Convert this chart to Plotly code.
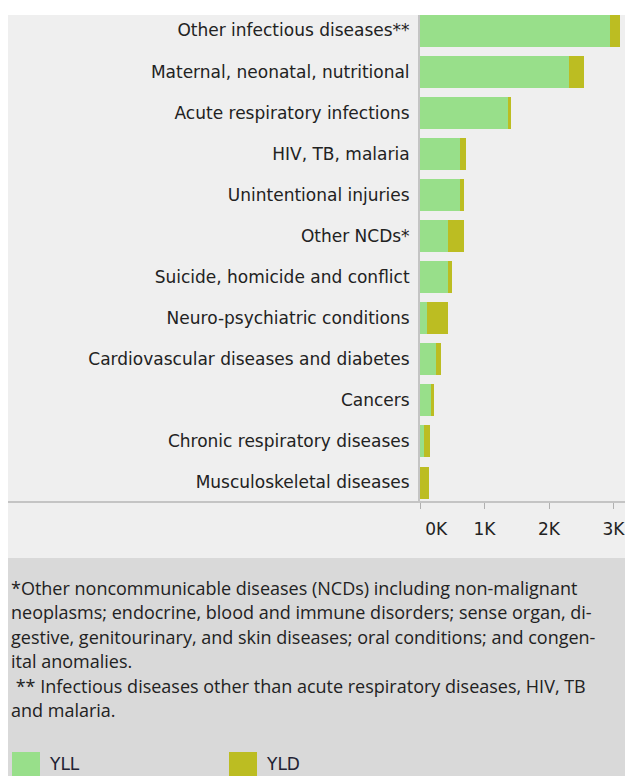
import plotly.graph_objects as go

CATEGORIES = [
    "Other infectious diseases**",
    "Maternal, neonatal, nutritional",
    "Acute respiratory infections",
    "HIV, TB, malaria",
    "Unintentional injuries",
    "Other NCDs*",
    "Suicide, homicide and conflict",
    "Neuro-psychiatric conditions",
    "Cardiovascular diseases and diabetes",
    "Cancers",
    "Chronic respiratory diseases",
    "Musculoskeletal diseases",
]
YLL = [2946, 2310, 1360, 625, 625, 440, 440, 105, 253, 166, 67, 5]
YLD = [155, 237, 55, 88, 52, 238, 62, 335, 68, 56, 93, 135]
SERIES_NAMES = ["YLL", "YLD"]
SERIES_COLORS = ["#98df8a", "#bcbd22"]
TICK_VALUES = [0, 1000, 2000, 3000]
TICK_LABELS = ["\u00a0\u00a0\u00a0\u00a0\u00a0\u00a00K", "1K", "2K", "3K"]

FOOTNOTE_LINES = [
    "*Other noncommunicable diseases (NCDs) including non-malignant",
    "neoplasms; endocrine, blood and immune disorders; sense organ, di-",
    "gestive, genitourinary, and skin diseases; oral conditions; and congen-",
    "ital anomalies.",
    "\u00a0** Infectious diseases other than acute respiratory diseases, HIV, TB",
    "and malaria.",
]

OFF = 0  # page body margin (removed below)
W, H = 625 - OFF, 776 - OFF
L, R, T, B = 420, 0, 15, 274
PW = W - L - R
PH = H - T - B
PX_PER_UNIT = 64.5 / 1000.0
X_MAX = PW / PX_PER_UNIT


def px(x):
    return (x - OFF - L) / PW


def py(y):
    return (H - B - (y - OFF)) / PH


fig = go.Figure()
for name, vals, col in zip(SERIES_NAMES, [YLL, YLD], SERIES_COLORS):
    fig.add_trace(go.Bar(
        y=CATEGORIES, x=vals, orientation="h", name=name,
        marker=dict(color=col, line=dict(width=0)),
        showlegend=False,
    ))

shapes = [
    dict(type="rect", xref="paper", yref="paper", x0=px(8), x1=px(630), y0=py(15), y1=py(558),
         fillcolor="#efefef", line=dict(width=0), layer="below"),
    dict(type="rect", xref="paper", yref="paper", x0=px(8), x1=px(630), y0=py(558), y1=py(790),
         fillcolor="#d9d9d9", line=dict(width=0), layer="below"),
    dict(type="line", xref="paper", yref="paper", x0=px(8), x1=px(630), y0=0, y1=0,
         line=dict(color="#c4c4c4", width=2)),
]
annotations = []
for i, line in enumerate(FOOTNOTE_LINES):
    baseline = 594 + 24.4 * i
    annotations.append(dict(text=line, xref="paper", yref="paper", x=px(9), y=py(baseline - 6),
                            xanchor="left", yanchor="middle", align="left", showarrow=False,
                            font=dict(family="Open Sans", size=18, color="#222222")))
legend_x = [12, 229]
for name, col, lx in zip(SERIES_NAMES, SERIES_COLORS, legend_x):
    shapes.append(dict(type="rect", xref="paper", yref="paper", x0=px(lx), x1=px(lx + 28),
                       y0=py(752), y1=py(780), fillcolor=col, line=dict(width=0)))
    annotations.append(dict(text=name, xref="paper", yref="paper", x=px(lx + 35), y=py(764),
                            xanchor="left", yanchor="middle", showarrow=False,
                            font=dict(family="DejaVu Sans", size=17, color="#222233")))

fig.update_layout(
    width=W, height=H,
    margin=dict(l=L, r=R, t=T, b=B, pad=0),
    barmode="stack", bargap=0.22,
    paper_bgcolor="white", plot_bgcolor="#efefef",
    shapes=shapes, annotations=annotations,
    font=dict(family="DejaVu Sans", size=17, color="#222222"),
    xaxis=dict(range=[0, X_MAX], tickvals=TICK_VALUES, ticktext=TICK_LABELS,
               showgrid=False, zeroline=False, showline=False,
               ticks="outside", ticklen=6, tickwidth=1, tickcolor="#b0b0b0",
               tickfont=dict(family="DejaVu Sans", size=17, color="#222222"),
               ticklabelstandoff=6, ticklabeloverflow="allow"),
    yaxis=dict(categoryorder="array", categoryarray=CATEGORIES,
               range=[11.474, -0.377], showgrid=False, zeroline=False,
               showline=True, linecolor="#c4c4c4", linewidth=2,
               ticks="", ticklabelstandoff=5,
               tickfont=dict(family="DejaVu Sans", size=17, color="#222222")),
)

fig.write_html(
    "out.html",
    config={"displayModeBar": False},
    post_script=("document.body.style.margin='0';"
                 "document.documentElement.style.overflow='hidden';"
                 "document.body.style.overflow='hidden';"),
)
